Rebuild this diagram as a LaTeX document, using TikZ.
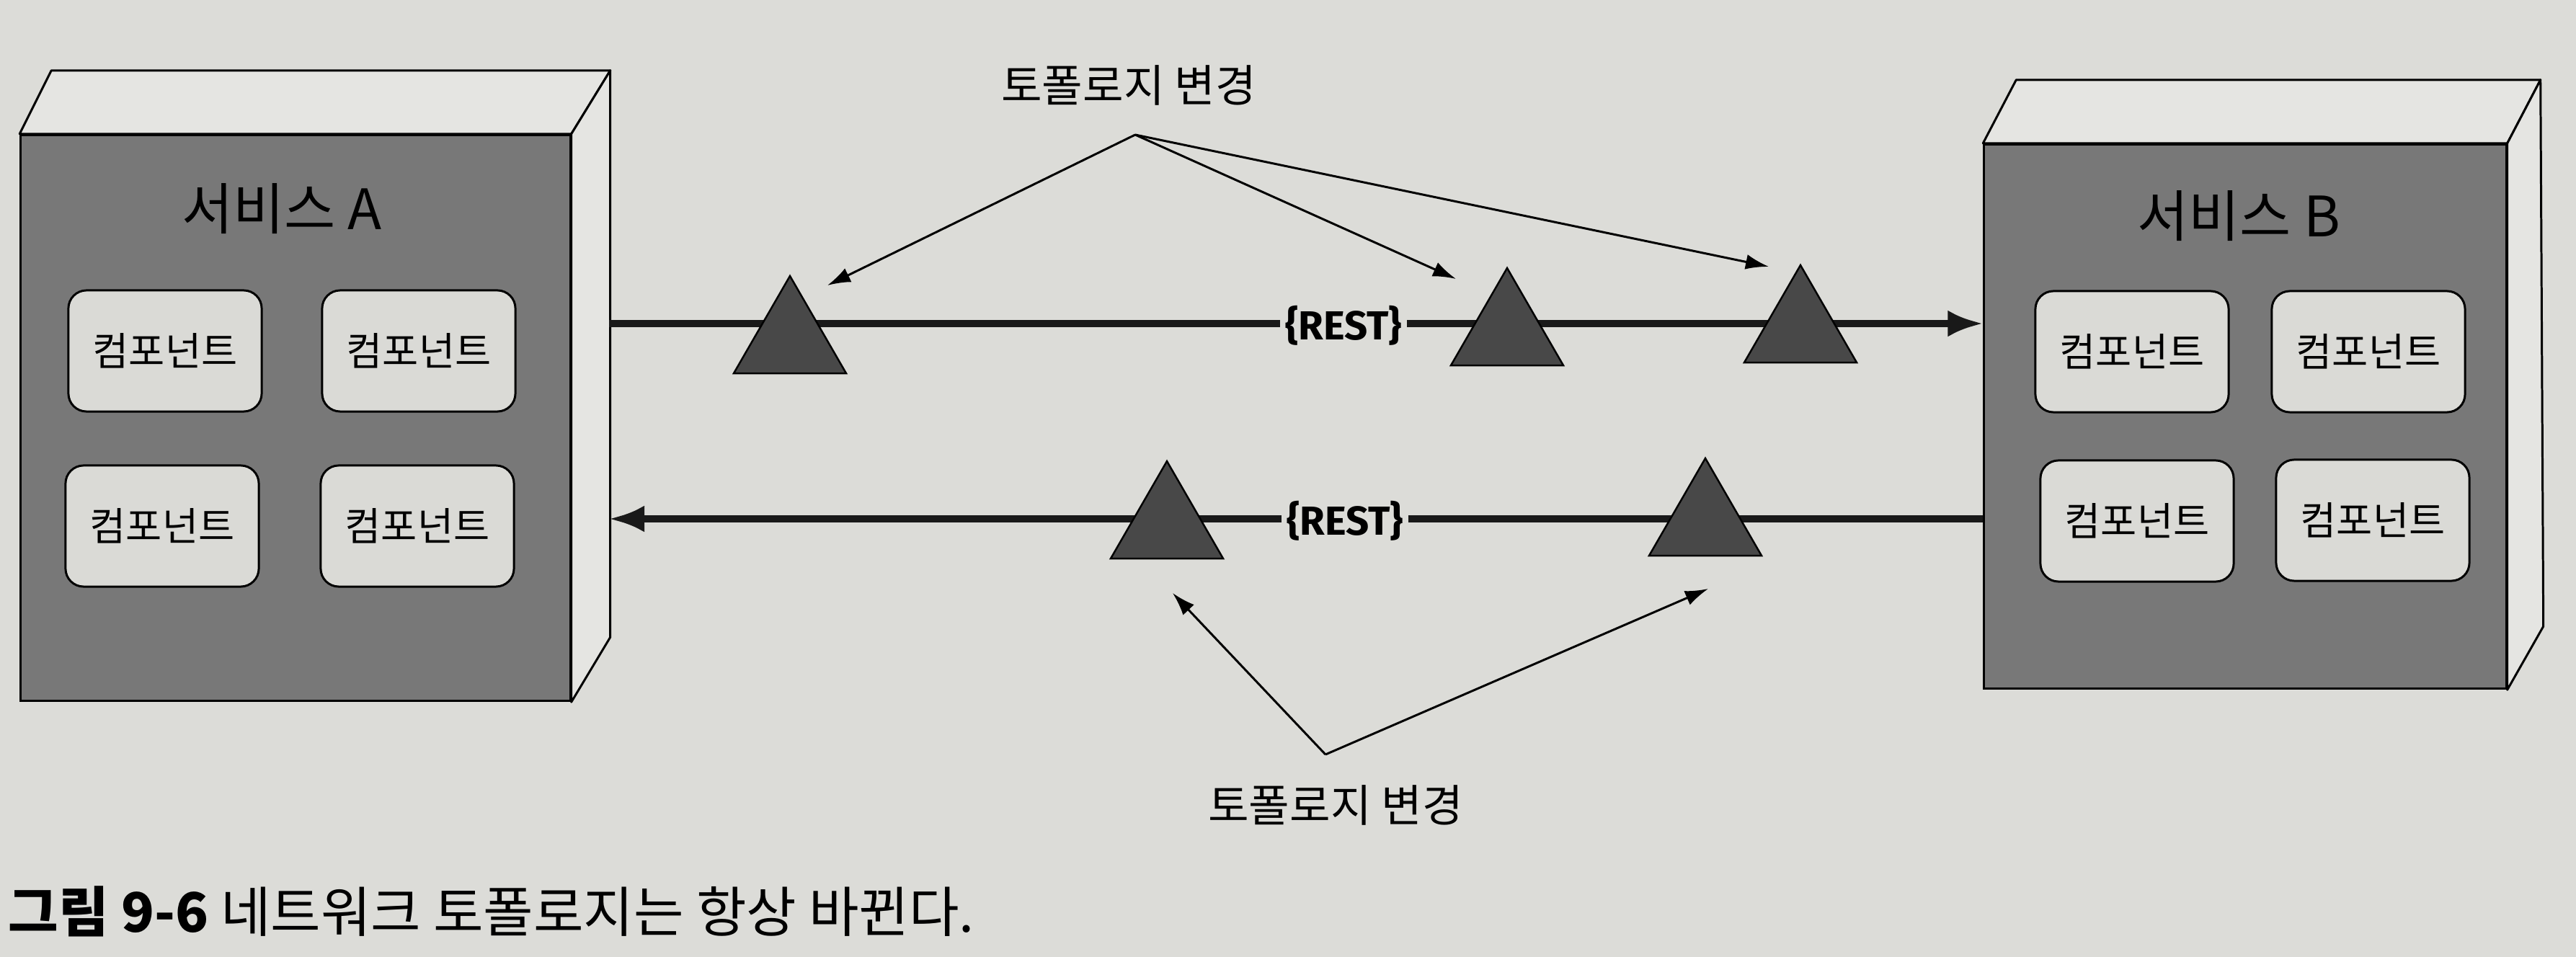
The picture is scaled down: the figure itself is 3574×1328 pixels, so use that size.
\documentclass[tikz,border=0pt]{standalone}
\usepackage{fontspec}
\setmainfont{Noto Sans CJK KR}
\newfontfamily\restfont{Fira Sans}
\definecolor{paper}{RGB}{220, 220, 216}
\definecolor{facelight}{RGB}{229, 229, 226}
\definecolor{facedark}{RGB}{120, 120, 120}
\definecolor{compfill}{RGB}{218, 218, 214}
\definecolor{trifill}{RGB}{72, 72, 72}
\usepackage{tikz}
\usetikzlibrary{shapes.geometric, arrows.meta, positioning, calc}

\tikzset{
  front/.style={draw=black, line width=0.85pt, fill=facedark, inner sep=0pt},
  face/.style={draw=black, line width=0.85pt, fill=facelight, line join=round},
  comp/.style={draw=black, line width=0.85pt, fill=compfill, rounded corners=0.25cm,
    minimum width=2.68cm, minimum height=1.68cm, font=\fontsize{15.5}{18}\selectfont},
  svclbl/.style={font=\fontsize{22}{26}\selectfont},
  restline/.style={line width=2.6pt, black!90},
  restlbl/.style={fill=paper, inner sep=2pt, font=\restfont\bfseries\fontsize{16}{19}\selectfont},
  tri/.style={regular polygon, regular polygon sides=3, draw=black, line width=0.7pt,
    fill=trifill, minimum size=1.8cm, inner sep=0pt},
  topolbl/.style={font=\fontsize{17.5}{20}\selectfont},
  pointer/.style={line width=0.85pt, -{Latex[length=0.32cm, width=0.21cm]}}
}

\begin{document}
\begin{tikzpicture}[x=0.01cm, y=-0.01cm]
  \path[use as bounding box, fill=paper] (0,0) rectangle (3574,1328);

  % service A
  \node[front, minimum width=7.62cm, minimum height=7.85cm] (svcA) at (410,580) {};
  \draw[face] (svcA.north west) -- ++(44,-88) -- ($(svcA.north east)+(54,-88)$) -- (svcA.north east) -- cycle;
  \draw[face] (svcA.north east) -- ++(54,-88) -- ($(svcA.south east)+(54,-90)$) -- (svcA.south east) -- cycle;
  \node[svclbl] (lblA) at (391,290) {서비스 A};
  \node[comp] (a11) at (229,487) {컴포넌트};
  \node[comp] (a12) at (581,487) {컴포넌트};
  \node[comp] (a21) at (225,730) {컴포넌트};
  \node[comp] (a22) at (579,730) {컴포넌트};

  % service B
  \node[front, minimum width=7.24cm, minimum height=7.55cm] (svcB) at (3115,578) {};
  \draw[face] (svcB.north west) -- ++(46,-88) -- ($(svcB.north east)+(46,-88)$) -- (svcB.north east) -- cycle;
  \draw[face] (svcB.north east) -- ++(46,-88) -- ($(svcB.south east)+(50,-88)$) -- (svcB.south east) -- cycle;
  \node[svclbl] (lblB) at (3106,300) {서비스 B};
  \node[comp] (b11) at (2958,488) {컴포넌트};
  \node[comp] (b12) at (3286,488) {컴포넌트};
  \node[comp] (b21) at (2965,723) {컴포넌트};
  \node[comp] (b22) at (3292,722) {컴포넌트};

  % REST calls
  \coordinate (aTop) at (845,449);
  \coordinate (aBot) at (845,720);
  \draw[restline, -{Latex[length=0.49cm, width=0.37cm]}] (aTop) -- (svcB.west |- aTop);
  \draw[restline, -{Latex[length=0.49cm, width=0.37cm]}] (svcB.west |- aBot) -- (aBot);
  \node[restlbl] (rest1) at (1864,452) {\{REST\}};
  \node[restlbl] (rest2) at (1866,723) {\{REST\}};

  \node[tri] (t1) at (1096,473) {};
  \node[tri] (t2) at (2091,462) {};
  \node[tri] (t3) at (2498,458) {};
  \node[tri] (t4) at (1619,730) {};
  \node[tri] (t5) at (2366,726) {};

  % topology changes
  \node[topolbl] (topoTop) at (1566,118) {토폴로지 변경};
  \node[topolbl] (topoBot) at (1853,1117) {토폴로지 변경};
  \coordinate (hubTop) at (1575,187);
  \coordinate (hubBot) at (1839,1047);
  \coordinate (k1) at (1148,396);
  \coordinate (k2) at (2020,387);
  \coordinate (k3) at (2454,370);
  \coordinate (k4) at (1627,823);
  \coordinate (k5) at (2370,817);
  \draw[pointer] (hubTop) -- (k1);
  \draw[pointer] (hubTop) -- (k2);
  \draw[pointer] (hubTop) -- (k3);
  \draw[pointer] (hubBot) -- (k4);
  \draw[pointer] (hubBot) -- (k5);

  \node[anchor=west, inner sep=0pt, font=\fontsize{21.5}{26}\selectfont] (caption) at (11,1265)
    {\textbf{그림 9-6} 네트워크 토폴로지는 항상 바뀐다.};
\end{tikzpicture}
\end{document}
